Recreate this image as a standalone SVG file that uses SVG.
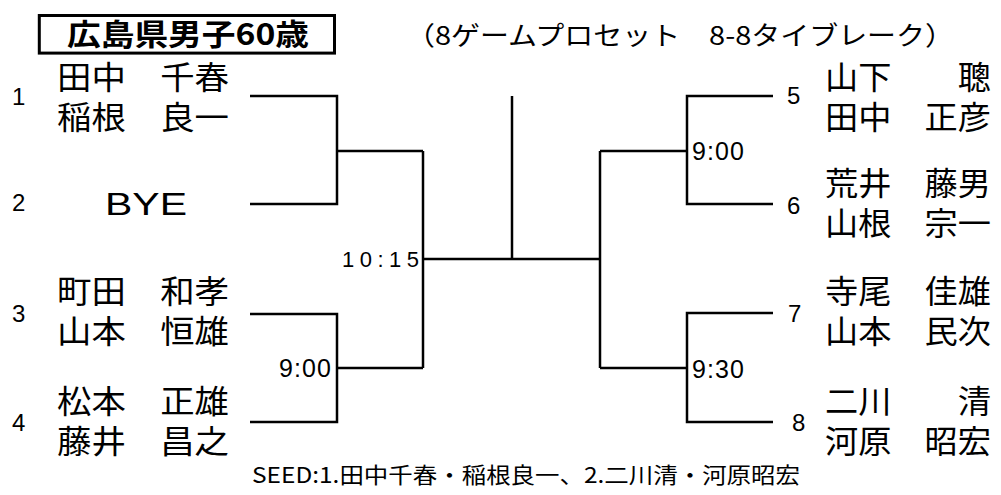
<svg xmlns="http://www.w3.org/2000/svg" width="1001" height="495" viewBox="0 0 1001 495">
<style>
.jp{font-family:"Noto Sans CJK JP","Noto Sans CJK SC",sans-serif;fill:#000}
.nm{font-size:32px}
.num{font-family:"Liberation Sans",Arial,sans-serif;font-size:24px;fill:#000}
.tm{font-family:"Liberation Sans",Arial,sans-serif;font-size:25px;fill:#000}
.ln{fill:none;stroke:#000;stroke-width:2.5;stroke-linejoin:miter;stroke-linecap:butt}
</style>
<rect width="1001" height="495" fill="#fff"/>
<g id="title">
<rect x="39.3" y="15.5" width="295.2" height="37.6" fill="none" stroke="#000" stroke-width="3"/>
<text class="jp" x="67" y="45" font-size="30" font-weight="700" textLength="242" lengthAdjust="spacingAndGlyphs">広島県男子60歳</text>
</g>
<g id="subtitle">
<text class="jp" x="406" y="45" font-size="26" textLength="548" lengthAdjust="spacingAndGlyphs">（8ゲームプロセット　8-8タイブレーク）</text>
</g>
<g id="connectors">
<polyline class="ln" points="250,96 337,96 337,204 250,204"/>
<polyline class="ln" points="250,314 337,314 337,422 250,422"/>
<line class="ln" x1="337" y1="151" x2="423" y2="151"/>
<line class="ln" x1="337" y1="368" x2="423" y2="368"/>
<line class="ln" x1="423" y1="151" x2="423" y2="368"/>
<line class="ln" x1="423" y1="259" x2="600" y2="259"/>
<line class="ln" x1="512" y1="96" x2="512" y2="259"/>
<line class="ln" x1="600" y1="151" x2="600" y2="368"/>
<line class="ln" x1="600" y1="151" x2="687" y2="151"/>
<line class="ln" x1="600" y1="368" x2="687" y2="368"/>
<polyline class="ln" points="773,96 687,96 687,204 773,204"/>
<polyline class="ln" points="773,313 687,313 687,422 773,422"/>
</g>
<g id="player1">
<text class="num" x="12" y="105">1</text>
<text class="jp nm" x="57" y="89" textLength="172" lengthAdjust="spacingAndGlyphs">田中　千春</text>
<text class="jp nm" x="57" y="129" textLength="172" lengthAdjust="spacingAndGlyphs">稲根　良一</text>
</g>
<g id="player2">
<text class="num" x="12" y="211">2</text>
<text x="105" y="215" font-family="Liberation Sans,Arial,sans-serif" font-size="32" textLength="82" lengthAdjust="spacingAndGlyphs">BYE</text>
</g>
<g id="player3">
<text class="num" x="12" y="322">3</text>
<text class="jp nm" x="57" y="303" textLength="172" lengthAdjust="spacingAndGlyphs">町田　和孝</text>
<text class="jp nm" x="57" y="343" textLength="172" lengthAdjust="spacingAndGlyphs">山本　恒雄</text>
</g>
<g id="player4">
<text class="num" x="12" y="431">4</text>
<text class="jp nm" x="57" y="413" textLength="172" lengthAdjust="spacingAndGlyphs">松本　正雄</text>
<text class="jp nm" x="57" y="453" textLength="172" lengthAdjust="spacingAndGlyphs">藤井　昌之</text>
</g>
<g id="player5">
<text class="num" x="787" y="104">5</text>
<text class="jp nm" x="825" y="89" textLength="166" lengthAdjust="spacingAndGlyphs">山下　　聰</text>
<text class="jp nm" x="825" y="129" textLength="166" lengthAdjust="spacingAndGlyphs">田中　正彦</text>
</g>
<g id="player6">
<text class="num" x="787" y="214">6</text>
<text class="jp nm" x="825" y="195" textLength="166" lengthAdjust="spacingAndGlyphs">荒井　藤男</text>
<text class="jp nm" x="825" y="235" textLength="166" lengthAdjust="spacingAndGlyphs">山根　宗一</text>
</g>
<g id="player7">
<text class="num" x="788" y="322">7</text>
<text class="jp nm" x="825" y="303" textLength="166" lengthAdjust="spacingAndGlyphs">寺尾　佳雄</text>
<text class="jp nm" x="825" y="343" textLength="166" lengthAdjust="spacingAndGlyphs">山本　民次</text>
</g>
<g id="player8">
<text class="num" x="792" y="431">8</text>
<text class="jp nm" x="825" y="413" textLength="166" lengthAdjust="spacingAndGlyphs">二川　　清</text>
<text class="jp nm" x="825" y="453" textLength="166" lengthAdjust="spacingAndGlyphs">河原　昭宏</text>
</g>
<g id="time-final">
<text x="342" y="267" font-family="Liberation Sans,Arial,sans-serif" font-size="22" textLength="77" lengthAdjust="spacing">10:15</text>
</g>
<g id="time-left-lower">
<text class="tm" x="279" y="377" textLength="52" lengthAdjust="spacing">9:00</text>
</g>
<g id="time-right-upper">
<text class="tm" x="692" y="160" textLength="52" lengthAdjust="spacing">9:00</text>
</g>
<g id="time-right-lower">
<text class="tm" x="692" y="378" textLength="52" lengthAdjust="spacing">9:30</text>
</g>
<g id="seed-note">
<text class="jp" x="252" y="483" font-size="22" textLength="548" lengthAdjust="spacingAndGlyphs">SEED:1.田中千春・稲根良一、2.二川清・河原昭宏</text>
</g>
</svg>
